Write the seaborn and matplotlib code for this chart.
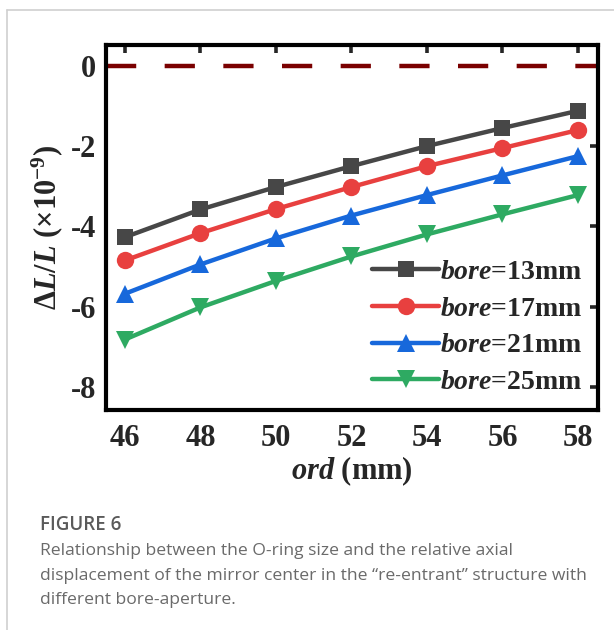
import matplotlib
matplotlib.use("Agg")
import matplotlib.pyplot as plt
from matplotlib.lines import Line2D
import numpy as np
import pandas as pd
import seaborn as sns

# O-ring position (mm)
ord_mm = [46, 48, 50, 52, 54, 56, 58]

# relative axial displacement dL/L (x1e-9) for each bore aperture
bore_13 = [-4.27, -3.58, -3.02, -2.50, -2.00, -1.55, -1.12]
bore_17 = [-4.85, -4.17, -3.57, -3.02, -2.50, -2.05, -1.60]
bore_21 = [-5.68, -4.95, -4.30, -3.73, -3.22, -2.73, -2.25]
bore_25 = [-6.82, -6.02, -5.36, -4.75, -4.20, -3.70, -3.22]

bore_labels = ["13mm", "17mm", "21mm", "25mm"]
series = [bore_13, bore_17, bore_21, bore_25]
colors = ["#474747", "#e8403f", "#1768db", "#2eaa62"]
markers = ["s", "o", "^", "v"]
msizes = [11, 12.5, 12.5, 12.5]

sns.set_style("white")
plt.rcParams["font.family"] = ["Liberation Serif", "DejaVu Serif"]
plt.rcParams["font.weight"] = "bold"
plt.rcParams["mathtext.fontset"] = "custom"
plt.rcParams["mathtext.rm"] = "Liberation Serif:bold"
plt.rcParams["mathtext.it"] = "Liberation Serif:italic:bold"
plt.rcParams["mathtext.bf"] = "Liberation Serif:bold"

fig = plt.figure(figsize=(6.14, 6.30), dpi=100)
ax = fig.add_axes([0.1726, 0.349, 0.8014, 0.5796])

frames = []
for lab, vals in zip(bore_labels, series):
    frames.append(pd.DataFrame({"ord": ord_mm, "dl": vals, "bore": lab}))
df = pd.concat(frames, ignore_index=True)

handles = []
for lab, col, mk, ms in zip(bore_labels, colors, markers, msizes):
    sub = df[df["bore"] == lab]
    sns.lineplot(data=sub, x="ord", y="dl", ax=ax, color=col, marker=mk,
                 markersize=ms, markeredgewidth=0, linewidth=3.2,
                 legend=False, zorder=3)
    handles.append(Line2D([], [], color=col, marker=mk, markersize=ms,
                          markeredgewidth=0, linewidth=3.2,
                          label=r"$bore$=" + lab))

ax.axhline(0, color="#7a0000", linewidth=3.2, dashes=(6.8, 6.4), zorder=2)

ax.set_xlim(45.5, 58.53)
ax.set_ylim(-8.58, 0.52)
ax.set_xticks(ord_mm)
ax.set_yticks([0, -2, -4, -6, -8])
ax.set_yticklabels(["0", "-2", "-4", "-6", "-8"])

for s in ax.spines.values():
    s.set_linewidth(3.0)
    s.set_color("black")
ax.tick_params(direction="in", length=6, width=2.6, top=True, right=True,
               labelsize=22, pad=7)
ax.tick_params(axis="x", pad=10)
for t in ax.get_xticklabels() + ax.get_yticklabels():
    t.set_fontweight("bold")

ax.set_xlabel(r"$ord$ (mm)", fontsize=22, fontweight="bold", labelpad=1)
ax.set_ylabel(r"Δ$L$/$L$ (×10$^{-9}$)", fontsize=22, fontweight="bold",
              labelpad=4)

leg = ax.legend(handles=handles, loc="lower right", frameon=False,
                prop={"family": "Liberation Serif", "weight": "bold", "size": 20},
                handlelength=2.4, handletextpad=0.05,
                labelspacing=0.4, borderaxespad=0.15,
                bbox_to_anchor=(1.0, 0.0))

# page frame lines
fig.add_artist(Line2D([7 / 614, 1], [1 - 10 / 630, 1 - 10 / 630],
                      transform=fig.transFigure, color="#cfcfcf", linewidth=1.2))
fig.add_artist(Line2D([7 / 614, 7 / 614], [0, 1 - 10 / 630],
                      transform=fig.transFigure, color="#cfcfcf", linewidth=1.2))

cap_font = ["Open Sans", "DejaVu Sans"]
fig.text(40 / 614, 1 - 530 / 630, "FIGURE 6", family=cap_font, fontsize=13.5,
         color="#5a5a5a", fontweight="semibold", va="baseline")
caption = ["Relationship between the O-ring size and the relative axial",
           "displacement of the mirror center in the \u201cre-entrant\u201d structure with",
           "different bore-aperture."]
for i, line in enumerate(caption):
    fig.text(40 / 614, 1 - (555 + 24.5 * i) / 630, line, family=cap_font,
             fontsize=12.6, color="#6a6a6a", fontweight="normal", va="baseline")

fig.savefig("out.png", dpi=100, facecolor="white")
